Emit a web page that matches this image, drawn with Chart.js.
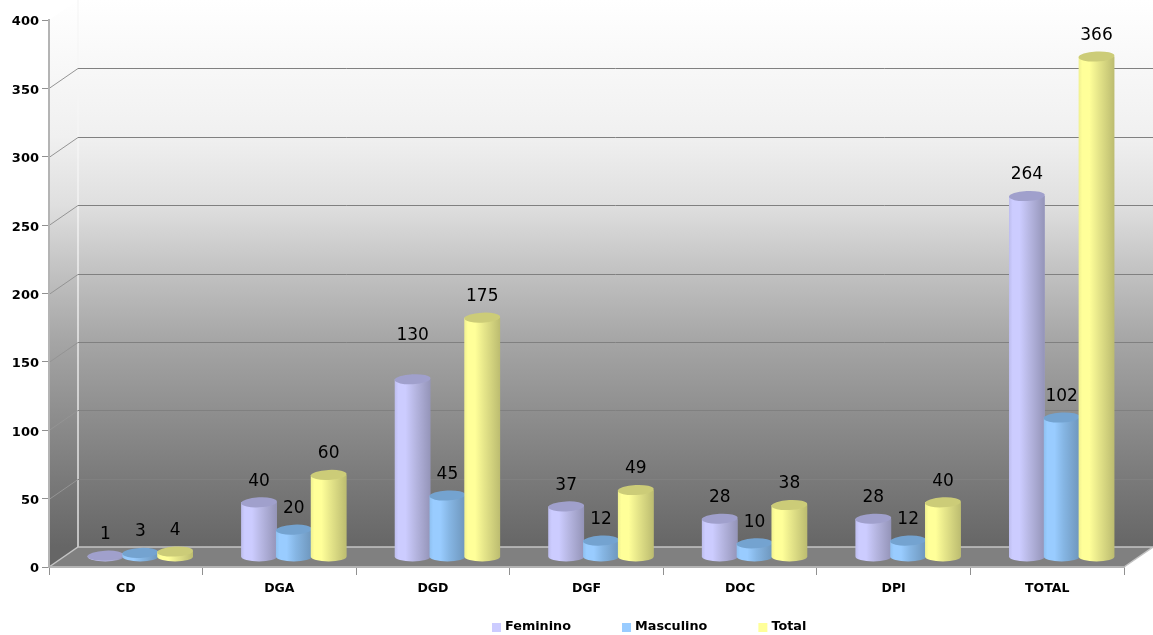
<!DOCTYPE html>
<html>
<head>
<meta charset="utf-8">
<style>
  html, body { margin: 0; padding: 0; background: #fff; }
  canvas { display: block; }
</style>
<script src="https://cdn.jsdelivr.net/npm/chart.js@4/dist/chart.umd.js"></script>
</head>
<body>
<canvas id="chart" width="1153" height="635"></canvas>
<script>
const categories = ["CD", "DGA", "DGD", "DGF", "DOC", "DPI", "TOTAL"];
const feminino = [1, 40, 130, 37, 28, 28, 264];
const masculino = [3, 20, 45, 12, 10, 12, 102];
const total = [4, 60, 175, 49, 38, 40, 366];
const yTicks = [0, 50, 100, 150, 200, 250, 300, 350, 400];

const AXIS_FONT = "DejaVu Sans";
const DEPTH_X = 29;
const DEPTH_Y = 20;

function cylinderGradient(ctx, left, right, c) {
  const g = ctx.createLinearGradient(left, 0, right, 0);
  g.addColorStop(0, c.edge);
  g.addColorStop(0.1, c.light);
  g.addColorStop(0.3, c.light);
  g.addColorStop(0.55, c.mid);
  g.addColorStop(1, c.dark);
  return g;
}

// walls, floor and the grid lines that run along them
const wallsPlugin = {
  id: "walls",
  beforeDraw(chart) {
    const { ctx, chartArea: a, scales } = chart;
    const back = a.bottom - DEPTH_Y;
    const g = ctx.createLinearGradient(0, a.top - DEPTH_Y, 0, back);
    g.addColorStop(0, "#ffffff");
    g.addColorStop(0.25, "#f0f0f0");
    g.addColorStop(0.375, "#dfdfdf");
    g.addColorStop(0.5, "#c1c1c1");
    g.addColorStop(0.625, "#a5a5a5");
    g.addColorStop(0.75, "#8f8f8f");
    g.addColorStop(0.875, "#7a7a7a");
    g.addColorStop(1, "#666666");

    ctx.save();
    ctx.fillStyle = g;
    ctx.beginPath();
    ctx.moveTo(a.left, a.top);
    ctx.lineTo(a.left + DEPTH_X, a.top - DEPTH_Y);
    ctx.lineTo(a.right + DEPTH_X, a.top - DEPTH_Y);
    ctx.lineTo(a.right + DEPTH_X, back);
    ctx.lineTo(a.right, a.bottom);
    ctx.lineTo(a.left, a.bottom);
    ctx.closePath();
    ctx.fill();

    ctx.fillStyle = "#808080";
    ctx.beginPath();
    ctx.moveTo(a.left, a.bottom);
    ctx.lineTo(a.left + DEPTH_X, back);
    ctx.lineTo(a.right + DEPTH_X, back);
    ctx.lineTo(a.right, a.bottom);
    ctx.closePath();
    ctx.fill();

    ctx.strokeStyle = "rgba(245,245,245,0.85)";
    ctx.lineWidth = 1.5;
    ctx.beginPath();
    ctx.moveTo(a.left + DEPTH_X, a.top - DEPTH_Y);
    ctx.lineTo(a.left + DEPTH_X, back);
    ctx.stroke();

    ctx.lineWidth = 1;
    yTicks.slice(1, -1).forEach((v) => {
      const y = Math.round(scales.y.getPixelForValue(v)) + 0.5;
      ctx.strokeStyle = "#808080";
      ctx.beginPath();
      ctx.moveTo(a.left + DEPTH_X, y - DEPTH_Y);
      ctx.lineTo(a.right + DEPTH_X, y - DEPTH_Y);
      ctx.stroke();
      ctx.strokeStyle = "#949494";
      ctx.beginPath();
      ctx.moveTo(a.left, y);
      ctx.lineTo(a.left + DEPTH_X, y - DEPTH_Y);
      ctx.stroke();
    });

    ctx.strokeStyle = "#c4c4c4";
    ctx.lineWidth = 1.5;
    ctx.beginPath();
    ctx.moveTo(a.left, a.bottom);
    ctx.lineTo(a.left + DEPTH_X, back);
    ctx.lineTo(a.right + DEPTH_X, back);
    ctx.lineTo(a.right, a.bottom);
    ctx.stroke();
    ctx.restore();
  },
};

// bars sit mid-way along the floor, then get shaded as cylinders
const cylinderPlugin = {
  id: "cylinders",
  beforeDatasetsDraw(chart) {
    chart.ctx.save();
    chart.ctx.translate(DEPTH_X / 2, -DEPTH_Y / 2);
  },
  afterDatasetsDraw(chart) {
    const { ctx } = chart;
    // left to right so each cylinder overlaps the one before it
    chart.data.datasets.forEach((ds, i) => {
      const c = ds.shade;
      chart.getDatasetMeta(i).data.forEach((bar) => {
        const w = bar.width + 1;
        const left = bar.x - w / 2;
        const rx = w / 2;
        const ry = 5;
        ctx.fillStyle = cylinderGradient(ctx, left, left + w, c);
        ctx.beginPath();
        ctx.moveTo(left, bar.y);
        ctx.lineTo(left, bar.base);
        ctx.ellipse(bar.x, bar.base, rx, ry, 0, Math.PI, 0, true);
        ctx.lineTo(left + w, bar.y);
        ctx.closePath();
        ctx.fill();
        ctx.fillStyle = c.top;
        ctx.beginPath();
        ctx.ellipse(bar.x, bar.y, rx, ry, -0.05, 0, Math.PI * 2);
        ctx.fill();
      });
    });

    ctx.save();
    ctx.fillStyle = "#000";
    ctx.font = "17px " + AXIS_FONT;
    ctx.textAlign = "center";
    ctx.textBaseline = "middle";
    chart.data.datasets.forEach((ds, i) => {
      chart.getDatasetMeta(i).data.forEach((bar, j) => {
        // the 130 label floats well above its bar in the original
        const lift = ds.data[j] === 130 ? 44 : 21;
        ctx.fillText(String(ds.data[j]), bar.x, bar.y - lift);
      });
    });
    ctx.restore();
    ctx.restore();
  },
};

const legendPlugin = {
  id: "flatLegend",
  afterDraw(chart) {
    const { ctx } = chart;
    let x = 492;
    const y = 627;
    ctx.save();
    ctx.font = "bold 12.8px " + AXIS_FONT;
    ctx.textBaseline = "middle";
    chart.data.datasets.forEach((ds) => {
      ctx.fillStyle = ds.backgroundColor;
      ctx.fillRect(x, y - 4, 9, 9);
      ctx.fillStyle = "#000";
      ctx.fillText(ds.label, x + 13, y);
      x += 13 + ctx.measureText(ds.label).width + 51;
    });
    ctx.restore();
  },
};

function dataset(label, data, color, shade) {
  return { label, data, backgroundColor: color, shade, clip: false,
    barPercentage: 1, categoryPercentage: 0.68 };
}

new Chart(document.getElementById("chart"), {
  type: "bar",
  data: {
    labels: categories,
    datasets: [
      dataset("Feminino", feminino, "#ccccff",
        { edge: "#bdbdee", light: "#ccccff", mid: "#b8b8e4", dark: "#9494b8", top: "#a0a0cc" }),
      dataset("Masculino", masculino, "#99ccff",
        { edge: "#8ec0f0", light: "#99ccff", mid: "#86b6e4", dark: "#6e96bc", top: "#74a3d0" }),
      dataset("Total", total, "#ffff99",
        { edge: "#f0f090", light: "#ffff99", mid: "#e6e68a", dark: "#bcbc70", top: "#cccc78" }),
    ],
  },
  options: {
    responsive: false,
    animation: false,
    layout: { padding: { top: 20, right: 29 } },
    plugins: { legend: { display: false }, tooltip: { enabled: false } },
    scales: {
      x: {
        afterFit: (scale) => { scale.height = 68; },
        border: { color: "#b4b4b4", width: 2 },
        grid: { offset: true, drawOnChartArea: false, tickLength: 8, tickColor: "#909090", tickWidth: 1 },
        ticks: { color: "#000", maxRotation: 0, padding: 6, font: { family: AXIS_FONT, size: 12.5, weight: "bold" } },
      },
      y: {
        min: 0,
        max: 400,
        afterFit: (scale) => { scale.width = 49; },
        afterBuildTicks: (scale) => { scale.ticks = yTicks.map((value) => ({ value })); },
        border: { color: "#b4b4b4", width: 2 },
        grid: { drawOnChartArea: false, tickLength: 7, tickColor: "#909090", tickWidth: 1 },
        ticks: { color: "#000", padding: 3, labelOffset: 2, font: { family: AXIS_FONT, size: 13, weight: "bold" } },
      },
    },
  },
  plugins: [wallsPlugin, cylinderPlugin, legendPlugin],
});
</script>
</body>
</html>
